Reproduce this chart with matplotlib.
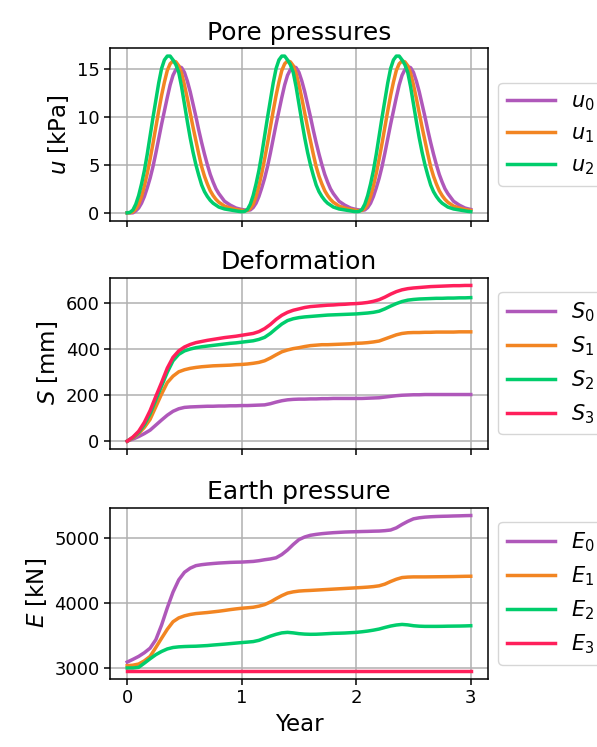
import matplotlib
matplotlib.use("Agg")
import matplotlib.pyplot as plt
import numpy as np

# ---------------- data ----------------
# pore pressures, sampled every 0.025 year
u0 = [0.0, 0.0, 0.0, 0.2, 0.5, 1.0, 1.7, 2.6, 3.6, 4.8, 6.2, 7.7, 9.2, 10.6, 12.0, 13.3, 14.3, 14.9, 15.2, 15.1,
      14.6, 13.7, 12.6, 11.3, 10.0, 8.6, 7.3, 6.1, 5.0, 4.0, 3.2, 2.5, 2.0, 1.6, 1.2, 1.0, 0.8, 0.65, 0.5, 0.42,
      0.35, 0.3, 0.27, 0.3, 0.55, 1.0, 1.7, 2.6, 3.6, 4.8, 6.2, 7.7, 9.2, 10.6, 12.0, 13.3, 14.3, 14.9, 15.2, 15.1,
      14.6, 13.7, 12.6, 11.3, 10.0, 8.6, 7.3, 6.1, 5.0, 4.0, 3.2, 2.5, 2.0, 1.6, 1.2, 1.0, 0.8, 0.65, 0.5, 0.42,
      0.35, 0.3, 0.27, 0.3, 0.55, 1.0, 1.7, 2.6, 3.6, 4.8, 6.2, 7.7, 9.2, 10.6, 12.0, 13.3, 14.3, 14.9, 15.2, 15.1,
      14.6, 13.7, 12.6, 11.3, 10.0, 8.6, 7.3, 6.1, 5.0, 4.0, 3.2, 2.5, 2.0, 1.6, 1.2, 1.0, 0.8, 0.65, 0.5, 0.42,
      0.35]
u1 = [0.0, 0.0, 0.1, 0.4, 0.9, 1.7, 2.8, 4.1, 5.6, 7.2, 8.9, 10.6, 12.2, 13.6, 14.8, 15.5, 15.8, 15.7, 15.3, 14.5,
      13.3, 11.9, 10.4, 8.9, 7.5, 6.1, 4.8, 3.8, 3.0, 2.3, 1.8, 1.4, 1.1, 0.9, 0.7, 0.6, 0.5, 0.42, 0.35, 0.3,
      0.25, 0.22, 0.25, 0.45, 0.9, 1.7, 2.8, 4.1, 5.6, 7.2, 8.9, 10.6, 12.2, 13.6, 14.8, 15.5, 15.8, 15.7, 15.3, 14.5,
      13.3, 11.9, 10.4, 8.9, 7.5, 6.1, 4.8, 3.8, 3.0, 2.3, 1.8, 1.4, 1.1, 0.9, 0.7, 0.6, 0.5, 0.42, 0.35, 0.3,
      0.25, 0.22, 0.25, 0.45, 0.9, 1.7, 2.8, 4.1, 5.6, 7.2, 8.9, 10.6, 12.2, 13.6, 14.8, 15.5, 15.8, 15.7, 15.3, 14.5,
      13.3, 11.9, 10.4, 8.9, 7.5, 6.1, 4.8, 3.8, 3.0, 2.3, 1.8, 1.4, 1.1, 0.9, 0.7, 0.6, 0.5, 0.42, 0.35, 0.3,
      0.25]
u2 = [0.0, 0.05, 0.3, 0.9, 1.8, 3.0, 4.4, 6.1, 8.0, 9.9, 11.7, 13.5, 15.0, 15.9, 16.3, 16.3, 15.9, 15.4, 14.6, 13.1,
      11.3, 9.5, 7.8, 6.3, 5.0, 3.9, 2.9, 2.2, 1.7, 1.3, 1.0, 0.8, 0.6, 0.5, 0.4, 0.35, 0.3, 0.25, 0.2, 0.15,
      0.12, 0.15, 0.35, 0.9, 1.8, 3.0, 4.4, 6.1, 8.0, 9.9, 11.7, 13.5, 15.0, 15.9, 16.3, 16.3, 15.9, 15.4, 14.6, 13.1,
      11.3, 9.5, 7.8, 6.3, 5.0, 3.9, 2.9, 2.2, 1.7, 1.3, 1.0, 0.8, 0.6, 0.5, 0.4, 0.35, 0.3, 0.25, 0.2, 0.15,
      0.12, 0.15, 0.35, 0.9, 1.8, 3.0, 4.4, 6.1, 8.0, 9.9, 11.7, 13.5, 15.0, 15.9, 16.3, 16.3, 15.9, 15.4, 14.6, 13.1,
      11.3, 9.5, 7.8, 6.3, 5.0, 3.9, 2.9, 2.2, 1.7, 1.3, 1.0, 0.8, 0.6, 0.5, 0.4, 0.35, 0.3, 0.25, 0.2, 0.15,
      0.12]
years_u = np.linspace(0, 3, len(u0))

# deformation and earth pressure, sampled every 0.05 year
S0 = [0, 9, 20, 33, 48, 70, 92, 113, 130, 141,
      147, 149, 150, 151, 152, 152, 153, 153, 154, 154,
      155, 155, 156, 157, 158, 163, 170, 176, 180, 182,
      183, 183, 184, 184, 185, 185, 186, 186, 186, 186,
      186, 186, 187, 188, 189, 192, 195, 198, 200, 201,
      202, 202, 203, 203, 203, 203, 203, 203, 203, 203,
      203]
S1 = [0, 14, 33, 60, 95, 150, 205, 255, 283, 302,
      311, 317, 321, 324, 326, 328, 329, 330, 331, 333,
      334, 336, 339, 343, 350, 362, 376, 389, 397, 403,
      407, 412, 416, 418, 420, 420, 421, 422, 423, 424,
      426, 427, 429, 432, 436, 445, 454, 463, 469, 472,
      473, 473, 474, 474, 475, 475, 475, 475, 476, 476,
      476]
S2 = [0, 16, 38, 72, 119, 180, 240, 300, 350, 378,
      393, 401, 407, 411, 414, 417, 420, 423, 426, 428,
      431, 434, 437, 443, 452, 469, 490, 510, 525, 533,
      538, 541, 543, 545, 547, 549, 550, 551, 552, 553,
      554, 556, 558, 561, 566, 576, 588, 599, 608, 614,
      617, 619, 620, 621, 622, 622, 623, 623, 624, 624,
      625]
S3 = [0, 18, 43, 82, 133, 195, 255, 318, 365, 393,
      410, 421, 429, 434, 439, 443, 447, 451, 454, 457,
      461, 465, 469, 477, 490, 508, 530, 548, 561, 570,
      576, 582, 586, 588, 590, 592, 593, 595, 596, 598,
      599, 601, 604, 609, 616, 627, 640, 651, 659, 664,
      667, 669, 671, 673, 674, 675, 676, 677, 677, 678,
      678]

E0 = [3086, 3128, 3173, 3230, 3300, 3430, 3655, 3920, 4162, 4350,
      4467, 4530, 4569, 4584, 4594, 4602, 4609, 4614, 4619, 4622,
      4624, 4629, 4634, 4645, 4660, 4672, 4690, 4740, 4810, 4895,
      4970, 5010, 5036, 5050, 5061, 5069, 5076, 5081, 5086, 5089,
      5091, 5094, 5096, 5099, 5101, 5107, 5117, 5150, 5203, 5250,
      5289, 5305, 5315, 5321, 5325, 5328, 5330, 5333, 5335, 5338,
      5340]
E1 = [3030, 3038, 3056, 3105, 3173, 3310, 3452, 3590, 3706, 3765,
      3797, 3818, 3832, 3840, 3848, 3858, 3868, 3880, 3893, 3904,
      3914, 3921, 3929, 3946, 3970, 4010, 4061, 4108, 4147, 4166,
      4178, 4184, 4188, 4193, 4198, 4203, 4208, 4213, 4218, 4223,
      4228, 4233, 4239, 4247, 4259, 4285, 4325, 4360, 4386, 4393,
      4396, 4396, 4396, 4397, 4398, 4399, 4400, 4401, 4403, 4405,
      4406]
E2 = [2995, 2995, 3005, 3070, 3137, 3200, 3249, 3288, 3310, 3320,
      3325, 3328, 3330, 3335, 3340, 3348, 3355, 3362, 3370, 3378,
      3386, 3393, 3401, 3420, 3452, 3485, 3513, 3535, 3543, 3535,
      3523, 3516, 3513, 3514, 3518, 3523, 3528, 3530, 3533, 3538,
      3543, 3552, 3563, 3577, 3594, 3618, 3640, 3656, 3665, 3658,
      3645, 3638, 3635, 3635, 3635, 3636, 3638, 3639, 3640, 3642,
      3645]
E3 = [2945] * 61
years = np.linspace(0, 3, len(S0))

colors = ["#AF58BA", "#F28522", "#00CD6C", "#FF1F5B"]

# ---------------- plot ----------------
plt.rcParams.update({
    "font.family": ["DejaVu Sans"],
    "xtick.labelsize": 13,
    "ytick.labelsize": 13,
    "axes.linewidth": 1.1,
})

fig = plt.figure(figsize=(5.97, 7.47), dpi=100)
ax1 = fig.add_axes([0.1843, 0.7046, 0.633, 0.2308])
ax2 = fig.add_axes([0.1843, 0.3990, 0.633, 0.2293], sharex=ax1)
ax3 = fig.add_axes([0.1843, 0.0910, 0.633, 0.2293], sharex=ax1)

lw = 2.5
for vals, c, lab in zip([u0, u1, u2], colors, ["$u_0$", "$u_1$", "$u_2$"]):
    ax1.plot(years_u, vals, color=c, lw=lw, label=lab)
for vals, c, lab in zip([S0, S1, S2, S3], colors, ["$S_0$", "$S_1$", "$S_2$", "$S_3$"]):
    ax2.plot(years, vals, color=c, lw=lw, label=lab)
for vals, c, lab in zip([E0, E1, E2, E3], colors, ["$E_0$", "$E_1$", "$E_2$", "$E_3$"]):
    ax3.plot(years, vals, color=c, lw=lw, label=lab)

ax1.set_title("Pore pressures", fontsize=18)
ax2.set_title("Deformation", fontsize=18)
ax3.set_title("Earth pressure", fontsize=18)
ax1.set_ylabel("$u$ [kPa]", fontsize=16.5)
ax2.set_ylabel("$S$ [mm]", fontsize=16.5)
ax3.set_ylabel("$E$ [kN]", fontsize=16.5)
ax3.set_xlabel("Year", fontsize=16.5)

ax1.set_yticks([0, 5, 10, 15])
ax2.set_yticks([0, 200, 400, 600])
ax3.set_yticks([3000, 4000, 5000])
ax3.set_xticks([0, 1, 2, 3])

for ax in (ax1, ax2):
    plt.setp(ax.get_xticklabels(), visible=False)

for ax in (ax1, ax2, ax3):
    ax.grid(True, color="#b0b0b0", lw=1.1)
    ax.tick_params(width=1.1, length=4)
    ax.legend(loc="center left", bbox_to_anchor=(1.0, 0.5), fontsize=15,
              handlelength=2.3)

fig.savefig("out.png", dpi=100)
